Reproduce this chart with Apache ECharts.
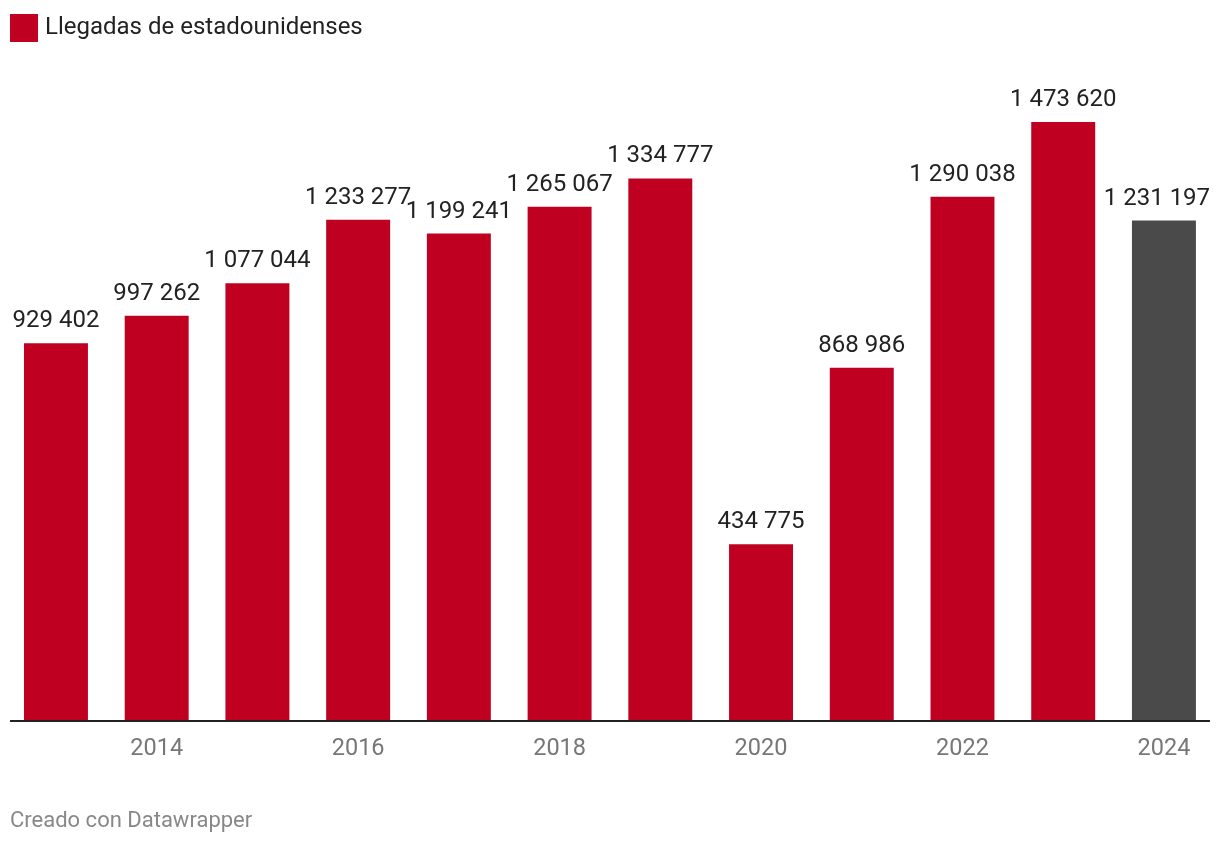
<!DOCTYPE html>
<html>
<head>
<meta charset="utf-8">
<script src="https://cdn.jsdelivr.net/npm/echarts@6/dist/echarts.min.js"></script>
<style>html,body{margin:0;padding:0;background:#fff;}#c{width:1220px;height:846px;}</style>
</head>
<body>
<div id="c"></div>
<script>
const years = ['2013','2014','2015','2016','2017','2018','2019','2020','2021','2022','2023','2024'];
const arrivals = [929402, 997262, 1077044, 1233277, 1199241, 1265067, 1334777, 434775, 868986, 1290038, 1473620, 1231197];
const seriesName = 'Llegadas de estadounidenses';
const highlightYear = '2024';

const RED = '#c00020';
const GRAY = '#4a4a4a';
const fmt = v => String(v).replace(/\B(?=(\d{3})+(?!\d))/g, ' ');

const chart = echarts.init(document.getElementById('c'));
chart.setOption({
  animation: false,
  backgroundColor: '#fff',
  textStyle: { fontFamily: 'Roboto' },
  legend: {
    left: 10, top: 14, padding: 0, icon: 'rect', itemWidth: 28, itemHeight: 28, itemGap: 8,
    textStyle: { fontSize: 24, color: '#222', fontFamily: 'Roboto', padding: [0, 0, 0, 2] },
    selectedMode: false,
    data: [seriesName]
  },
  grid: { left: 5.6, right: 5.7, top: 111.3, bottom: 125, containLabel: false },
  xAxis: {
    type: 'category',
    data: years,
    axisLine: { show: false },
    axisTick: { show: false },
    axisLabel: {
      interval: (i) => i % 2 === 1,
      color: '#777', fontSize: 23.5, margin: 16, fontFamily: 'Roboto'
    }
  },
  yAxis: {
    type: 'value', min: 0, max: 1500000,
    show: false, splitLine: { show: false }
  },
  graphic: [{
    type: 'line', z: 100,
    shape: { x1: 10, y1: 721, x2: 1210, y2: 721 },
    style: { stroke: '#222', lineWidth: 2 }
  }, {
    type: 'text', left: 10, top: 810,
    style: { text: 'Creado con Datawrapper', fill: '#888', fontSize: 22, fontFamily: 'Roboto' }
  }],
  series: [{
    name: seriesName,
    type: 'bar',
    barCategoryGap: '36.5%',
    itemStyle: { color: RED },
    data: arrivals.map((v, i) => years[i] === highlightYear
      ? { value: v, itemStyle: { color: GRAY }, label: { offset: [-7, 0] } }
      : v),
    label: {
      show: true, position: 'top', distance: 10,
      formatter: p => fmt(p.value),
      fontSize: 24, color: '#222', fontFamily: 'Roboto'
    }
  }]
});
</script>
</body>
</html>
